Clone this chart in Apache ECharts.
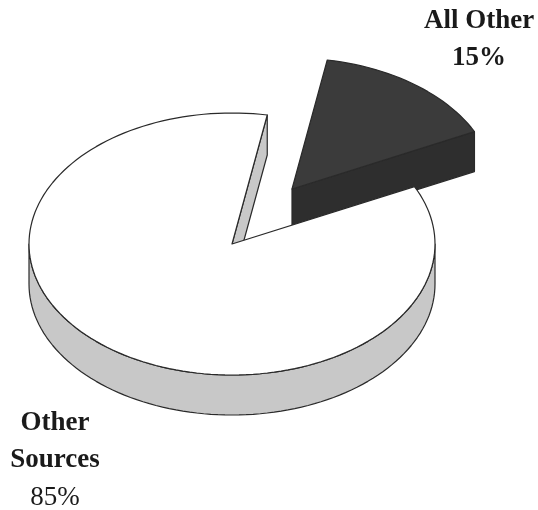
<!DOCTYPE html>
<html><head><meta charset="utf-8">
<script src="https://cdn.jsdelivr.net/npm/echarts@6/dist/echarts.min.js"></script>
<style>html,body{margin:0;padding:0;background:#fff}#c{width:538px;height:510px}</style>
</head><body><div id="c"></div>
<script>
// Data
const categories = ['All Other', 'Other Sources'];
const values = [15, 85];
const labelNames = ['All Other', 'Other\nSources'];

// Geometry / style constants
const CX = 232, CY = 244, RX = 203, RY = 131, DEPTH = 40;
const START_DEG = 26;
const EXPLODE = [[60, -55], [0, 0]];
const TOP_COLORS = ['#3b3b3b', '#ffffff'];
const SIDE_COLORS = ['#2e2e2e', '#c8c8c8'];
const STROKE = '#2a2a2a';

const total = values.reduce((a, b) => a + b, 0);
const starts = [];
let acc = START_DEG;
values.forEach(v => { starts.push(acc); acc += v / total * 360; });

function pt(ox, oy, deg, dz) {
  const r = deg * Math.PI / 180;
  return [ox + RX * Math.cos(r), oy - RY * Math.sin(r) + (dz || 0)];
}
function arc(ox, oy, a0, a1, dz) {
  const pts = [];
  const n = Math.max(2, Math.ceil(Math.abs(a1 - a0) / 2));
  for (let k = 0; k <= n; k++) pts.push(pt(ox, oy, a0 + (a1 - a0) * k / n, dz));
  return pts;
}

function renderItem(params, api) {
  const i = params.dataIndex;
  const v = api.value(0);
  const a0 = starts[i];
  const a1 = a0 + v / total * 360;
  const ox = CX + EXPLODE[i][0], oy = CY + EXPLODE[i][1];
  const children = [];
  const sideStyle = { fill: SIDE_COLORS[i], stroke: STROKE, lineWidth: 1.2, lineJoin: 'round' };
  [[a0, a0 - 90], [a1, a1 + 90]].forEach(([a, n]) => {
    if (Math.sin(n * Math.PI / 180) < 0) {
      const e = pt(ox, oy, a);
      children.push({ type: 'polygon', shape: { points: [[ox, oy], e, [e[0], e[1] + DEPTH], [ox, oy + DEPTH]] }, style: sideStyle });
    }
  });
  for (let base = 180; base < a1 + 360; base += 360) {
    const s = Math.max(a0, base), e = Math.min(a1, base + 180);
    if (e > s) {
      const top = arc(ox, oy, s, e, 0);
      const bot = arc(ox, oy, e, s, DEPTH);
      children.push({ type: 'polygon', shape: { points: top.concat(bot) }, style: sideStyle });
    }
  }
  children.push({ type: 'polygon', shape: { points: [[ox, oy]].concat(arc(ox, oy, a0, a1, 0)) },
    style: { fill: TOP_COLORS[i], stroke: STROKE, lineWidth: 1.2, lineJoin: 'round' } });
  return { type: 'group', children: children };
}

const chart = echarts.init(document.getElementById('c'));
const B = { fontFamily: 'Liberation Serif', fontSize: 27, fontWeight: 'bold', lineHeight: 37, fill: '#1a1a1a', align: 'center' };
const N = { fontFamily: 'Liberation Serif', fontSize: 27, lineHeight: 37, fill: '#1a1a1a', align: 'center' };
chart.setOption({
  animation: false,
  backgroundColor: '#fff',
  series: [{
    type: 'custom',
    coordinateSystem: 'none',
    renderItem: renderItem,
    data: values.map((v, i) => ({ name: categories[i], value: [v] }))
  }],
  graphic: [
    { type: 'text', x: 479, y: 3, style: {
        text: '{b|' + labelNames[0] + '}\n{b|' + values[0] + '%}',
        align: 'center', verticalAlign: 'top', rich: { b: B } } },
    { type: 'text', x: 55, y: 405, style: {
        text: labelNames[1].split('\n').map(s => '{b|' + s + '}').join('\n') + '\n{n|' + values[1] + '%}',
        align: 'center', verticalAlign: 'top', rich: { b: B, n: N } } }
  ]
});
</script></body></html>
